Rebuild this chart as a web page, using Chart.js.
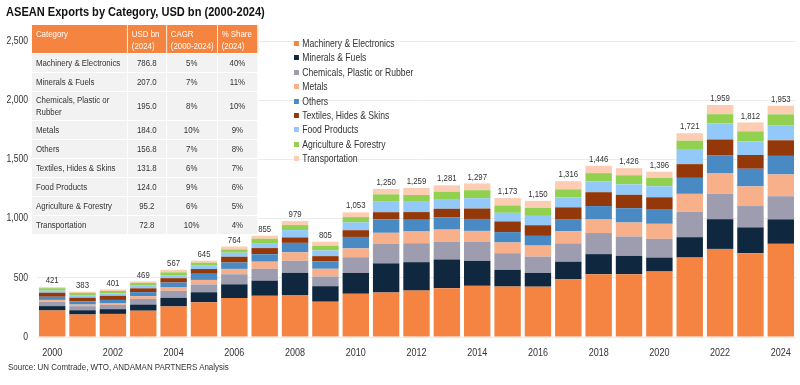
<!DOCTYPE html>
<html>
<head>
<meta charset="utf-8">
<script src="https://cdn.jsdelivr.net/npm/chart.js@4.4.1/dist/chart.umd.min.js"></script>
<style>
    body { margin: 0; background: #fff; }
    #wrap { position: relative; width: 800px; height: 385px; font-family: 'Liberation Sans', Arial, sans-serif; color: #333; }
    #wrap canvas { position: absolute; left: 0; top: 0; }
    /* no narrow face installed, so text is squeezed horizontally */
    .narrow { transform: scaleX(0.82); transform-origin: 0 0; }
    .title { position: absolute; left: 6px; top: 4px; font-size: 13.5px; font-weight: bold; color: #111; white-space: nowrap; }
    .source { position: absolute; left: 8px; top: 361px; font-size: 9.7px; color: #333; white-space: nowrap; }
    table.stats { position: absolute; left: 31px; top: 24px; width: 276px; border-collapse: collapse; font-size: 9.6px; z-index: 2; table-layout: fixed; }
    table.stats td, table.stats th { border: 1px solid #fff; padding: 0 0 0 5px; background: #f2f2f2; color: #333; font-weight: normal; line-height: 12px; box-sizing: border-box; white-space: nowrap; }
    table.stats th { background: #f4843f; color: #fff; text-align: left; vertical-align: top; padding-top: 3px; height: 29px; }
    table.stats td { height: 19px; vertical-align: middle; }
    table.stats td.num { text-align: center; padding: 0; }
    .legend { position: absolute; left: 294px; top: 36px; font-size: 10.5px; color: #333; z-index: 2; }
    .legend div { height: 14.4px; line-height: 14.4px; white-space: nowrap; }
    .legend span { display: inline-block; width: 6.1px; height: 5px; margin-right: 4px; vertical-align: 1px; }
</style>
</head>
<body>
<div id="wrap">
    <canvas id="chart"></canvas>
    <div class="title narrow">ASEAN Exports by Category, USD bn (2000-2024)</div>
    <table class="stats narrow" id="stats"></table>
    <div class="legend narrow" id="legend"></div>
    <div class="source narrow">Source: UN Comtrade, WTO, ANDAMAN PARTNERS Analysis</div>
</div>
<script>
const years = [2000, 2001, 2002, 2003, 2004, 2005, 2006, 2007, 2008, 2009, 2010, 2011, 2012,
    2013, 2014, 2015, 2016, 2017, 2018, 2019, 2020, 2021, 2022, 2023, 2024];

const categories = ['Machinery & Electronics', 'Minerals & Fuels', 'Chemicals, Plastic or Rubber', 'Metals',
    'Others', 'Textiles, Hides & Skins', 'Food Products', 'Agriculture & Forestry', 'Transportation'];

const colors = ['#f58442', '#10283f', '#9e9caf', '#f7b08a', '#4a8ac4', '#94380a', '#93c9f8', '#92d050', '#fccdb2'];

const machinery = [224, 190, 195, 222, 258, 293, 329, 348, 354, 298, 365, 376, 392, 412, 432, 426, 425, 487, 530, 530, 553, 671, 744, 708, 786.8];
const minerals = [37, 36, 40, 52, 73, 85, 116, 128, 188, 131, 176, 246, 240, 243, 211, 141, 116, 149, 170, 155, 118, 172, 251, 218, 207];
const chemicals = [37, 34, 36, 48, 59, 66, 85, 100, 102, 82, 133, 167, 160, 150, 160, 141, 138, 155, 178, 164, 158, 214, 214, 180, 195];
const metals = [15, 14, 16, 22, 28, 38, 45, 60, 71, 65, 74, 91, 99, 102, 93, 90, 93, 101, 114, 118, 127, 152, 172, 166, 184];
const others = [27, 28, 26, 35, 42, 52, 54, 63, 80, 62, 97, 114, 99, 105, 101, 88, 82, 99, 114, 121, 119, 135, 155, 149, 156.8];
const textiles = [34, 30, 35, 32, 37, 40, 49, 52, 46, 45, 57, 60, 65, 71, 88, 90, 90, 104, 117, 113, 105, 116, 132, 116, 131.8];
const food = [18, 17, 19, 23, 25, 29, 34, 42, 62, 48, 66, 94, 87, 82, 87, 73, 79, 84, 90, 88, 93, 121, 135, 115, 124];
const agriculture = [20, 23, 22, 23, 24, 24, 28, 37, 42, 40, 45, 57, 57, 62, 68, 62, 68, 68, 71, 77, 71, 77, 79, 85, 95.2];
const transport = [9, 11, 12, 12, 21, 18, 24, 25, 34, 34, 40, 45, 60, 54, 57, 62, 59, 69, 62, 60, 52, 63, 77, 75, 72.8];

const totals = [421, 383, 401, 469, 567, 645, 764, 855, 979, 805, 1053, 1250, 1259, 1281, 1297, 1173, 1150,
    1316, 1446, 1426, 1396, 1721, 1959, 1812, 1953];

const yTicks = [0, 500, 1000, 1500, 2000, 2500];

// summary table
const usd2024 = ['786.8', '207.0', '195.0', '184.0', '156.8', '131.8', '124.0', '95.2', '72.8'];
const cagr = ['5%', '7%', '8%', '10%', '7%', '6%', '9%', '6%', '10%'];
const share2024 = ['40%', '11%', '10%', '9%', '8%', '7%', '6%', '5%', '4%'];

const series = [machinery, minerals, chemicals, metals, others, textiles, food, agriculture, transport];

const fontFamily = "'Liberation Sans', Arial, sans-serif";
const NARROW = 0.82;

function esc(s) {
    return s.replace('&', '&amp;');
}

function buildTable() {
    const table = document.getElementById('stats');
    let html = '<colgroup><col style="width:117px"><col style="width:47.5px"><col style="width:62px"><col style="width:49.5px"></colgroup>';
    html += '<tr><th>Category</th><th>USD bn<br>(2024)</th><th>CAGR<br>(2000-2024)</th><th>% Share<br>(2024)</th></tr>';
    categories.forEach((c, i) => {
        const label = i === 2 ? 'Chemicals, Plastic or<br>Rubber' : esc(c);
        const h = i === 2 ? ' style="height:29px"' : (i === 8 ? ' style="height:17px"' : '');
        html += `<tr><td${h}>${label}</td><td class="num">${usd2024[i]}</td><td class="num">${cagr[i]}</td><td class="num">${share2024[i]}</td></tr>`;
    });
    table.innerHTML = html;
}

function buildLegend() {
    const el = document.getElementById('legend');
    el.innerHTML = categories
        .map((c, i) => `<div><span style="background:${colors[i]}"></span>${esc(c)}</div>`)
        .join('');
}

function narrowText(ctx, text, x, y, align) {
    ctx.save();
    ctx.translate(x, y);
    ctx.scale(NARROW, 1);
    ctx.textAlign = align;
    ctx.fillText(text, 0, 0);
    ctx.restore();
}

// axis labels and bar totals, drawn squeezed like the source
const textLayer = {
    id: 'textLayer',
    afterDraw(chart) {
        const { ctx } = chart;
        const xs = chart.scales.x;
        const ys = chart.scales.y;
        ctx.save();
        ctx.fillStyle = '#333';
        ctx.textBaseline = 'middle';

        ctx.font = `10.5px ${fontFamily}`;
        yTicks.forEach((v) => narrowText(ctx, v.toLocaleString('en-US'), 28, ys.getPixelForValue(v), 'right'));

        ctx.font = `11px ${fontFamily}`;
        years.forEach((yr, i) => {
            if (yr % 2 === 0) narrowText(ctx, String(yr), xs.getPixelForValue(i), 353, 'center');
        });

        ctx.font = `9.5px ${fontFamily}`;
        const meta = chart.getDatasetMeta(chart.data.datasets.length - 1);
        meta.data.forEach((bar, i) => {
            narrowText(ctx, totals[i].toLocaleString('en-US'), bar.x, bar.y - 6.5, 'center');
        });
        ctx.restore();
    },
};

buildTable();
buildLegend();

new Chart(document.getElementById('chart'), {
    type: 'bar',
    data: {
        labels: years,
        datasets: categories.map((c, i) => ({
            label: c,
            data: series[i],
            backgroundColor: colors[i],
            borderWidth: 0,
            barPercentage: 0.87,
            categoryPercentage: 1,
        })),
    },
    options: {
        responsive: true,
        maintainAspectRatio: false,
        animation: false,
        layout: { padding: { top: 41, right: 4, left: 0, bottom: 0 } },
        plugins: {
            legend: { display: false },
            tooltip: { enabled: false },
        },
        scales: {
            x: {
                stacked: true,
                grid: { display: false },
                border: { display: false },
                afterFit: (scale) => { scale.height = 48; },
                ticks: { display: false },
            },
            y: {
                stacked: true,
                min: 0,
                max: 2500,
                afterFit: (scale) => { scale.width = 37; },
                afterBuildTicks: (scale) => { scale.ticks = yTicks.map((v) => ({ value: v })); },
                grid: { color: '#ebebeb', drawTicks: false },
                border: { display: false },
                ticks: { display: false },
            },
        },
    },
    plugins: [textLayer],
});
</script>
</body>
</html>
